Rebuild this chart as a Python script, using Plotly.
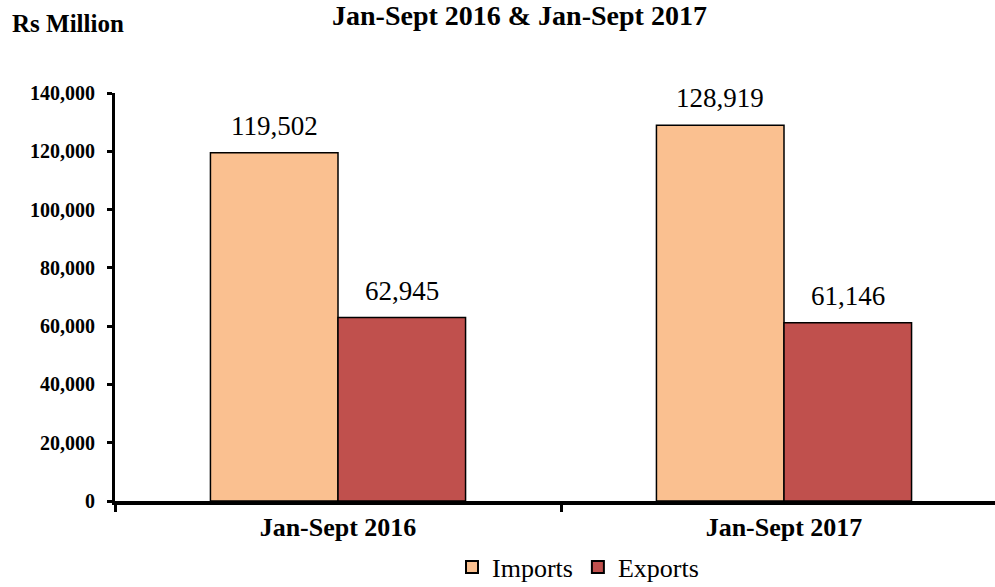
import plotly.graph_objects as go

categories = ["Jan-Sept 2016", "Jan-Sept 2017"]
imports = [119502, 128919]
exports = [62945, 61146]
series_names = ["Imports", "Exports"]
y_ticks = [0, 20000, 40000, 60000, 80000, 100000, 120000, 140000]

FONT = "Liberation Serif"
W, H = 995, 587
L, R, T, B = 115, 0, 93, 86
PW = W - L - R
PH = H - T - B
CAT_W = 446.0

def fx(px):
    return (px - L) / PW

def fy(py):
    return (H - B - py) / PH

fig = go.Figure()
fig.add_trace(go.Bar(x=categories, y=imports, name=series_names[0],
                     marker=dict(color="#FAC090", line=dict(color="black", width=1.5))))
fig.add_trace(go.Bar(x=categories, y=exports, name=series_names[1],
                     marker=dict(color="#C0504D", line=dict(color="black", width=1.5))))

bargap = 0.428
half = (1 - bargap) / 4.0
annotations = []
for i in range(len(categories)):
    for vals, off in ((imports, -half), (exports, half)):
        annotations.append(dict(x=i + off, y=vals[i], xref="x", yref="y",
                                text=f"{vals[i]:,}", showarrow=False,
                                yanchor="bottom", yshift=10,
                                font=dict(family=FONT, size=27, color="black")))

annotations.append(dict(x=fx(519), y=fy(15), xref="paper", yref="paper",
                        text="<b>Jan-Sept 2016 & Jan-Sept 2017</b>", showarrow=False,
                        xanchor="center", yanchor="middle",
                        font=dict(family=FONT, size=28, color="black")))
annotations.append(dict(x=fx(68), y=fy(24), xref="paper", yref="paper",
                        text="<b>Rs Million</b>", showarrow=False,
                        xanchor="center", yanchor="middle",
                        font=dict(family=FONT, size=25, color="black")))

fig.update_layout(
    width=W, height=H,
    margin=dict(l=L, r=R, t=T, b=B, pad=0, autoexpand=False),
    paper_bgcolor="white", plot_bgcolor="white",
    barmode="group", bargap=bargap, bargroupgap=0,
    showlegend=True,
    legend=dict(orientation="h", x=fx(578), xanchor="center", y=fy(567), yanchor="middle",
                font=dict(family=FONT, size=26, color="black"),
                itemsizing="constant", traceorder="normal"),
    annotations=annotations,
    font=dict(family=FONT, color="black"),
)
fig.update_xaxes(
    type="category", range=[-0.5, -0.5 + PW / CAT_W],
    showline=True, linecolor="black", linewidth=4,
    ticks="outside", tickson="boundaries", ticklen=7, tickwidth=3, tickcolor="black",
    tickfont=dict(family=FONT, size=26, color="black", weight="bold"),
    showgrid=False, zeroline=False,
)
fig.update_yaxes(
    range=[0, 140000], tickvals=y_ticks, tickformat=",d",
    showline=True, linecolor="black", linewidth=3,
    ticks="outside", ticklen=5, tickwidth=3, tickcolor="black",
    tickfont=dict(family=FONT, size=20, color="black", weight="bold"),
    ticklabelstandoff=8,
    showgrid=False, zeroline=False,
)

fig.write_html("out.html")
